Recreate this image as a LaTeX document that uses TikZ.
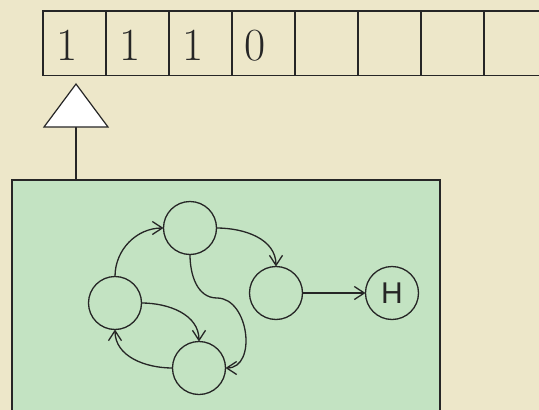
\documentclass[tikz,border=0pt]{standalone}
\usepackage{fontspec}
\newfontfamily\hfont{Liberation Sans}
\usetikzlibrary{arrows.meta}
\definecolor{parch}{RGB}{237,231,201}
\definecolor{boxgreen}{RGB}{195,227,194}
\definecolor{ink}{RGB}{38,38,38}
\begin{document}
\begin{tikzpicture}[x=1pt,y=1pt,
  cell/.style={draw=ink,line width=1.8pt,minimum width=63pt,minimum height=64.5pt,inner sep=0pt,outer sep=0pt},
  digit/.style={font=\fontsize{46}{46}\selectfont,inner sep=0pt,anchor=base,text=ink},
  state/.style={circle,draw=ink,line width=1.3pt,minimum size=53pt,inner sep=0pt,outer sep=0pt},
  trans/.style={draw=ink,line width=1.3pt,-{Straight Barb[length=10pt,width=13pt]}},
  machinebox/.style={draw=ink,line width=2pt,fill=boxgreen,minimum width=428pt,minimum height=250pt,anchor=north west,inner sep=0pt,outer sep=0pt},
  head/.style={draw=ink,line width=1.2pt,fill=white,line join=miter},
  stem/.style={draw=ink,line width=2pt},
  hlabel/.style={font=\hfont\fontsize{30}{30}\selectfont,text=ink}
]
\useasboundingbox (0,0) rectangle (539,-410);
\clip (0,0) rectangle (539,-410);
\fill[parch] (0,0) rectangle (539,-410);

% tape
\foreach \i in {0,...,7}{
  \node[cell] (c\i) at ({74.5+63*\i},-43.25) {};
}
\node[digit] (d0) at (67,-60) {1};
\node[digit] (d1) at (130.5,-60) {1};
\node[digit] (d2) at (193,-60) {1};
\node[digit] (d3) at (255,-60) {0};

% machine box
\node[machinebox] (machine) at (12,-180) {};

% head triangle
\coordinate (apex) at (76,-84);
\coordinate (tl) at (44,-127);
\coordinate (tr) at (108,-127);
\coordinate (tbase) at (76,-127);
\draw[stem] (tbase) -- (tbase |- machine.north);
\draw[head] (apex) -- (tr) -- (tl) -- cycle;

% states
\node[state] (A) at (115,-303) {};
\node[state] (B) at (190,-228) {};
\node[state] (C) at (199,-368) {};
\node[state] (D) at (276,-293) {};
\node[state,hlabel] (H) at (392,-293) {H};

% transitions
\draw[trans] (A.north) to[out=90,in=180] (B.west);
\draw[trans] (B.east) to[out=0,in=90] (D.north);
\draw[trans] (D.east) -- (H.west);
\draw[trans] (A.east) to[out=0,in=90] (C.north);
\draw[trans] (C.west) to[out=180,in=-90] (A.south);
\coordinate (bend) at (217,-298);
\draw[trans] (B.south) to[out=-90,in=180] (bend) .. controls +(32,0) and +(32,0) .. (C.east);
\end{tikzpicture}
\end{document}
